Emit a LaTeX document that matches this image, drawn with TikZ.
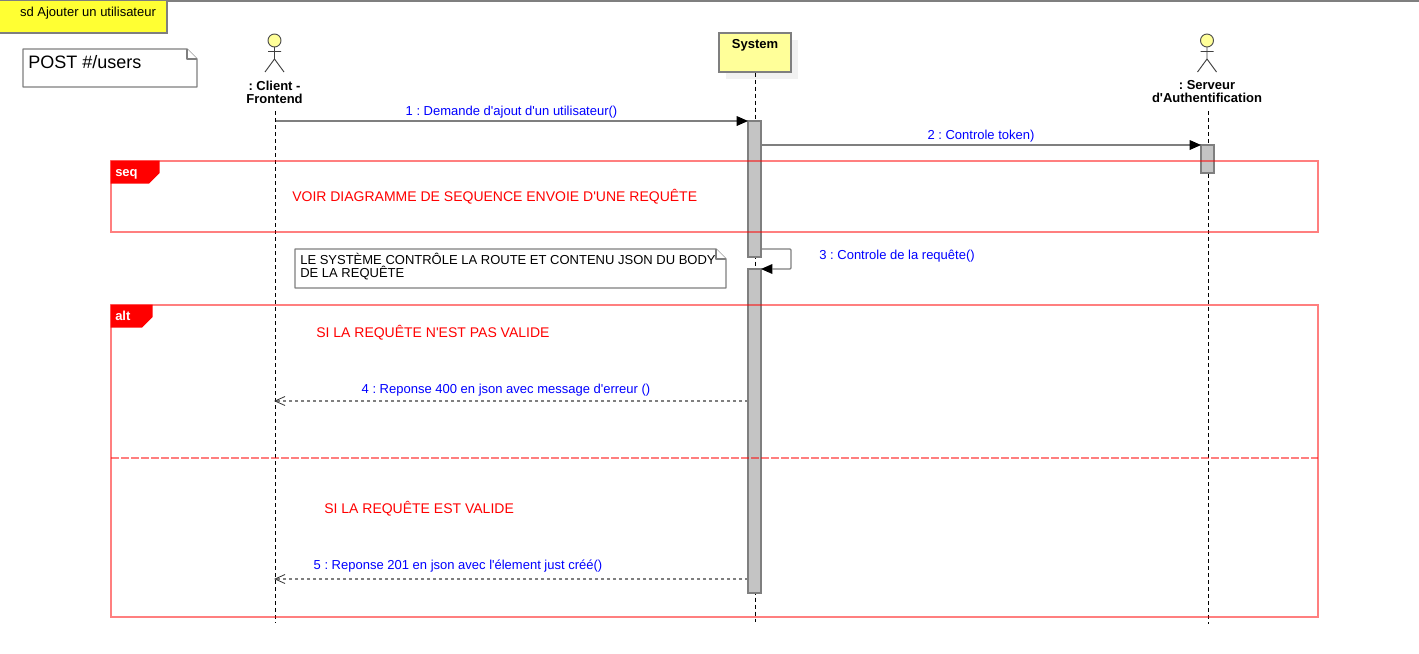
\documentclass[tikz,border=0pt]{standalone}
\usepackage{fontspec}
\setmainfont[Ligatures=TeXOff]{Liberation Sans}
\frenchspacing
\usetikzlibrary{arrows.meta}
\definecolor{edgegray}{HTML}{7F7F7F}
\definecolor{actyellow}{HTML}{FFFF99}
\definecolor{tabyellow}{HTML}{FFFF33}
\definecolor{actgray}{HTML}{C4C4C4}
\definecolor{msgblue}{HTML}{0000FF}
\definecolor{shadowgray}{HTML}{F1F1F1}
\tikzset{
  edge/.style={draw=edgegray,line width=0.95pt},
  lifeline/.style={draw=black,line width=0.75pt,dash pattern=on 3pt off 2.25pt},
  activation/.style={edge,fill=actgray,minimum width=9.75pt,inner sep=0pt},
  msgtext/.style={text=msgblue,font=\fontsize{9.75pt}{9.75pt}\selectfont,inner sep=0pt},
  redtext/.style={text=red,font=\fontsize{10.5pt}{10.5pt}\selectfont,inner sep=0pt},
  actorlabel/.style={font=\fontsize{9.75pt}{9.75pt}\selectfont\bfseries,align=center,inner sep=0pt},
  syncmsg/.style={edge,-{Triangle[length=8.5pt,width=7.5pt,color=black,fill=black,line width=0pt]}},
  replymsg/.style={draw=edgegray,line width=0.95pt,dash pattern=on 2.25pt off 2.25pt},
  barb/.style={draw=black!80,line width=0.6pt},
  fragment/.style={draw=red,draw opacity=0.5,line width=1.1pt},
  fragtab/.style={fill=red,draw=none},
  fragtext/.style={text=white,font=\fontsize{9.75pt}{9.75pt}\selectfont\bfseries,inner sep=0pt},
  notebox/.style={edge,fill=white,line join=round},
  actorline/.style={draw=black!75,line width=0.7pt},
  actorhead/.style={draw=black!70,line width=0.7pt,fill=actyellow},
}
\begin{document}
\begin{tikzpicture}[x=0.75pt,y=-0.75pt]
\useasboundingbox (0,0) rectangle (1419,653);
\fill[white] (0,0) rectangle (1419,653);
% top line and diagram tab
\draw[draw=edgegray,line width=1.5pt] (0,0.5) -- (1419,0.5);
\draw[edge,fill=tabyellow] (-3,0.5) rectangle (167,33);
\node[anchor=center,inner sep=0pt,font=\fontsize{9.75pt}{9.75pt}\selectfont] (sdtitle) at (88,13) {sd Ajouter un utilisateur};
% POST note
\draw[notebox] (23,49) -- (187,49) -- (197,59) -- (197,87) -- (23,87) -- cycle;
\draw[notebox] (187,49) -- (187,59) -- (197,59);
\node[anchor=west,inner sep=0pt,font=\fontsize{13.5pt}{13.5pt}\selectfont] (posttext) at (28,62) {POST \#/users};
% lifelines
\coordinate (clientTop) at (275,111);
\coordinate (clientEnd) at (275,623);
\coordinate (systemEnd) at (755,622);
\coordinate (serverTop) at (1208,111);
\coordinate (serverEnd) at (1208,624);
\draw[lifeline] (clientTop) -- (clientEnd);
\draw[lifeline] (serverTop) -- (serverEnd);
% system box
\fill[shadowgray] (726,40) rectangle (798,79);
\node[edge,fill=actyellow,minimum width=54pt,minimum height=29.25pt,inner sep=0pt] (system) at (755,52.5) {};
\node[actorlabel] (systemlabel) at (755,45) {System};
\draw[lifeline] (system.south) -- (systemEnd);
% actors
\foreach \name/\cx/\txt in {client/274.5/{: Client -\\Frontend},server/1207/{: Serveur\\d'Authentification}}{
  \draw[actorline] (\cx,47) -- (\cx,59) (\cx-6.5,51.5) -- (\cx+6.5,51.5) (\cx-9.5,72) -- (\cx,59) -- (\cx+9.5,72);
  \draw[actorhead] (\cx,40.5) circle (6.5);
  \node[actorlabel] (\name label) at (\cx,92) {\txt};
}
% activations
\node[activation,minimum height=102pt] (actA) at (754.5,189) {};
\node[activation,minimum height=243pt] (actB) at (754.5,431) {};
\node[activation,minimum height=21pt] (actC) at (1207.5,159) {};
% messages
\coordinate (m1s) at (275.5,121);
\coordinate (m1e) at (748,121);
\draw[syncmsg] (m1s) -- (m1e);
\node[msgtext] (m1t) at (511.5,112) {1 : Demande d'ajout d'un utilisateur()};
\coordinate (m2s) at (761,145);
\coordinate (m2e) at (1201,145);
\draw[syncmsg] (m2s) -- (m2e);
\node[msgtext] (m2t) at (981,136) {2 : Controle token)};
\coordinate (m3s) at (761,249);
\coordinate (m3a) at (791,249);
\coordinate (m3b) at (791,269);
\coordinate (m3e) at (761,269);
\draw[syncmsg,rounded corners=0.75pt] (m3s) -- (m3a) -- (m3b) -- (m3e);
\node[msgtext] (m3t) at (897,256) {3 : Controle de la requête()};
\coordinate (m4s) at (748,401);
\coordinate (m4e) at (275,401);
\draw[replymsg] (m4s) -- (m4e);
\draw[barb] (285,396.5) -- (m4e) -- (285,405.5);
\node[msgtext] (m4t) at (506,390) {4 : Reponse 400 en json avec message d'erreur ()};
\coordinate (m5s) at (748,579);
\coordinate (m5e) at (275,579);
\draw[replymsg] (m5s) -- (m5e);
\draw[barb] (285,574.5) -- (m5e) -- (285,583.5);
\node[msgtext] (m5t) at (458,566) {5 : Reponse 201 en json avec l'élement just créé()};
% note on request
\draw[notebox] (295,249) -- (716,249) -- (726,259) -- (726,288) -- (295,288) -- cycle;
\draw[notebox] (716,249) -- (716,259) -- (726,259);
\node[anchor=north west,inner sep=0pt,align=left,font=\fontsize{9.75pt}{9.75pt}\selectfont] (notetext) at (300,253) {LE SYSTÈME CONTRÔLE LA ROUTE ET CONTENU JSON DU BODY\\DE LA REQUÊTE};
% fragments
\draw[fragment] (111,161) rectangle (1318,232);
\fill[fragtab] (110.5,160.5) -- (159.5,160.5) -- (159.5,173) -- (149,183.5) -- (110.5,183.5) -- cycle;
\node[fragtext,anchor=west] (seqlabel) at (115,174.5) {seq};
\node[redtext,anchor=west] (seqtext) at (292,196.5) {VOIR DIAGRAMME DE SEQUENCE ENVOIE D'UNE REQUÊTE};
\draw[fragment] (111,305) rectangle (1318,617);
\fill[fragtab] (110.5,304.5) -- (152.5,304.5) -- (152.5,317) -- (142,327.5) -- (110.5,327.5) -- cycle;
\node[fragtext,anchor=west] (altlabel) at (115,315.5) {alt};
\coordinate (sepl) at (111,458);
\coordinate (sepr) at (1318,458);
\draw[fragment,dash pattern=on 6pt off 1.5pt] (sepl) -- (sepr);
\node[redtext,anchor=west] (alt1) at (316,332.5) {SI LA REQUÊTE N'EST PAS VALIDE};
\node[redtext,anchor=west] (alt2) at (324,508.5) {SI LA REQUÊTE EST VALIDE};
\end{tikzpicture}
\end{document}
